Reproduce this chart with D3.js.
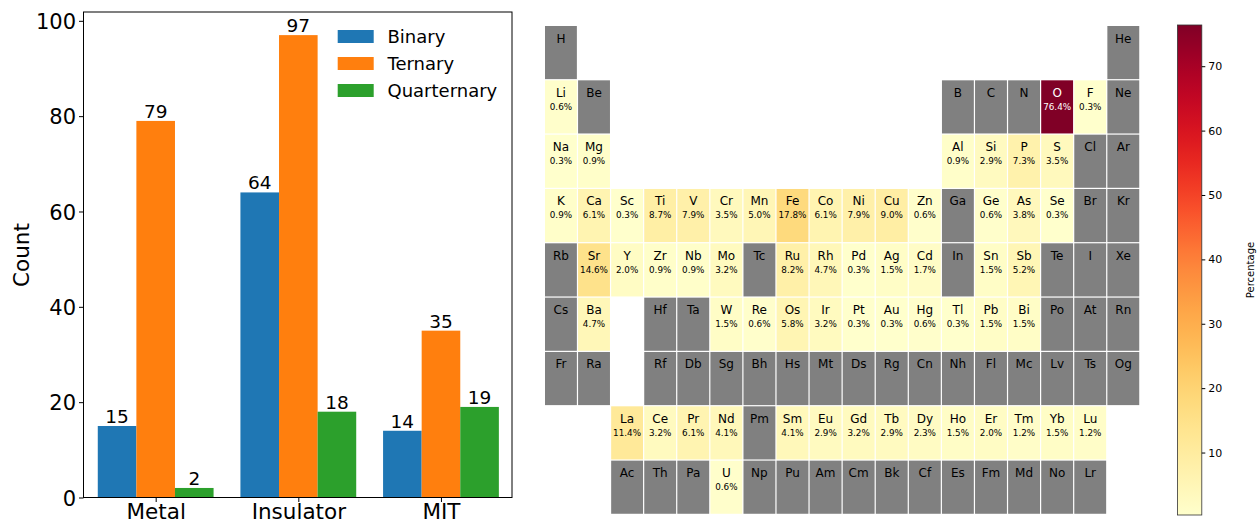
<!DOCTYPE html>
<html><head><meta charset="utf-8">
<script src="https://cdn.jsdelivr.net/npm/d3@7"></script>
<style>body{margin:0;background:#fff}svg{display:block;font-family:"DejaVu Sans",sans-serif}</style>
</head><body>
<svg id="c" width="1257" height="527"></svg>
<script>
// ---- Bar chart data ----
const categories = ["Metal", "Insulator", "MIT"];
const seriesNames = ["Binary", "Ternary", "Quarternary"];
const binary = [15, 64, 14];
const ternary = [79, 97, 35];
const quarternary = [2, 18, 19];
const seriesColors = ["#1f77b4", "#ff7f0e", "#2ca02c"];
const yTicks = [0, 20, 40, 60, 80, 100];

// ---- Periodic table data ----
const tableRows = [
  ["H",null,null,null,null,null,null,null,null,null,null,null,null,null,null,null,null,"He"],
  ["Li","Be",null,null,null,null,null,null,null,null,null,null,"B","C","N","O","F","Ne"],
  ["Na","Mg",null,null,null,null,null,null,null,null,null,null,"Al","Si","P","S","Cl","Ar"],
  ["K","Ca","Sc","Ti","V","Cr","Mn","Fe","Co","Ni","Cu","Zn","Ga","Ge","As","Se","Br","Kr"],
  ["Rb","Sr","Y","Zr","Nb","Mo","Tc","Ru","Rh","Pd","Ag","Cd","In","Sn","Sb","Te","I","Xe"],
  ["Cs","Ba",null,"Hf","Ta","W","Re","Os","Ir","Pt","Au","Hg","Tl","Pb","Bi","Po","At","Rn"],
  ["Fr","Ra",null,"Rf","Db","Sg","Bh","Hs","Mt","Ds","Rg","Cn","Nh","Fl","Mc","Lv","Ts","Og"],
  [null,null,"La","Ce","Pr","Nd","Pm","Sm","Eu","Gd","Tb","Dy","Ho","Er","Tm","Yb","Lu",null],
  [null,null,"Ac","Th","Pa","U","Np","Pu","Am","Cm","Bk","Cf","Es","Fm","Md","No","Lr",null]
];
const elemSymbols = ["Li","O","F","Na","Mg","Al","Si","P","S","K","Ca","Sc","Ti","V","Cr","Mn","Fe","Co","Ni","Cu","Zn","Ge","As","Se","Sr","Y","Zr","Nb","Mo","Ru","Rh","Pd","Ag","Cd","Sn","Sb","Ba","W","Re","Os","Ir","Pt","Au","Hg","Tl","Pb","Bi","La","Ce","Pr","Nd","Sm","Eu","Gd","Tb","Dy","Ho","Er","Tm","Yb","Lu","U"];
const elemPercent = [0.6,76.4,0.3,0.3,0.9,0.9,2.9,7.3,3.5,0.9,6.1,0.3,8.7,7.9,3.5,5.0,17.8,6.1,7.9,9.0,0.6,0.6,3.8,0.3,14.6,2.0,0.9,0.9,3.2,8.2,4.7,0.3,1.5,1.7,1.5,5.2,4.7,1.5,0.6,5.8,3.2,0.3,0.3,0.6,0.3,1.5,1.5,11.4,3.2,6.1,4.1,4.1,2.9,3.2,2.9,2.3,1.5,2.0,1.2,1.5,1.2,0.6];
const cbarTicks = [10, 20, 30, 40, 50, 60, 70];

const svg = d3.select("#c");

// ================= Bar chart =================
const L = 83.5, R = 512, T = 12, B = 497.5;
const x = d3.scaleLinear().domain([-0.506, 2.498]).range([L, R]);
const y = d3.scaleLinear().domain([0, 101.85]).range([B, T]);
const bw = 0.2706;
const allSeries = [binary, ternary, quarternary];

const gBar = svg.append("g");
allSeries.forEach((vals, s) => {
  const off = (s - 1) * bw;
  gBar.selectAll(null).data(vals).enter().append("rect")
    .attr("x", (d, i) => x(i + off - bw / 2))
    .attr("width", x(bw) - x(0))
    .attr("y", d => y(d))
    .attr("height", d => y(0) - y(d))
    .attr("fill", seriesColors[s]);
  gBar.selectAll(null).data(vals).enter().append("text")
    .attr("x", (d, i) => x(i + off))
    .attr("y", d => y(d) - 3)
    .attr("text-anchor", "middle")
    .attr("font-size", 18.5)
    .text(d => d);
});

// axes
const yAxis = d3.axisLeft(y).tickValues(yTicks).tickSize(4.5).tickPadding(3);
const gy = svg.append("g").attr("transform", `translate(${L},0)`).call(yAxis);
gy.select(".domain").remove();
gy.selectAll("text").attr("font-size", 21).attr("font-family", "DejaVu Sans").attr("fill", "#000").attr("dy", "0.36em");
gy.selectAll("line").attr("stroke", "#000").attr("stroke-width", 1);

const xAxis = d3.axisBottom(x).tickValues([0, 1, 2]).tickFormat(i => categories[i]).tickSize(4.5).tickPadding(2);
const gx = svg.append("g").attr("transform", `translate(0,${B})`).call(xAxis);
gx.select(".domain").remove();
gx.selectAll("text").attr("font-size", 21.5).attr("font-family", "DejaVu Sans").attr("fill", "#000").attr("dy", "0.72em");
gx.selectAll("line").attr("stroke", "#000").attr("stroke-width", 1);

svg.append("rect").attr("x", L).attr("y", T).attr("width", R - L).attr("height", B - T)
  .attr("fill", "none").attr("stroke", "#000").attr("stroke-width", 1);

svg.append("text").attr("transform", `translate(29,255) rotate(-90)`)
  .attr("text-anchor", "middle").attr("font-size", 21.5).text("Count");

// legend
const leg = svg.append("g");
seriesNames.forEach((n, i) => {
  const cy = 36.5 + i * 27;
  leg.append("rect").attr("x", 337.7).attr("y", cy - 6.5).attr("width", 36).attr("height", 13).attr("fill", seriesColors[i]);
  leg.append("text").attr("x", 387.5).attr("y", cy + 6.5).attr("font-size", 18).text(n);
});

// ================= Periodic table =================
const pct = new Map(elemSymbols.map((s, i) => [s, elemPercent[i]]));
const px = 545, pitchX = 33.08, py = 26, pitchY = 54.33;
const colX = d3.scaleLinear().domain([0, 18]).range([px, px + 18 * pitchX]);
const rowY = d3.scaleLinear().domain([0, 9]).range([py, py + 9 * pitchY]);
const vmin = 0.3, vmax = 76.4;
const color = d3.scaleSequential(d3.interpolateYlOrRd).domain([vmin, vmax]);

const cells = [];
tableRows.forEach((row, r) => row.forEach((s, c) => { if (s) cells.push({ s, r, c, v: pct.get(s) }); }));

const gT = svg.append("g");
const cg = gT.selectAll("g").data(cells).enter().append("g")
  .attr("transform", d => `translate(${colX(d.c)},${rowY(d.r)})`);
cg.append("rect").attr("width", pitchX - 1.2).attr("height", pitchY - 1.2)
  .attr("fill", d => d.v === undefined ? "#808080" : color(d.v));
cg.append("text").attr("x", (pitchX - 1.2) / 2).attr("y", 16.5).attr("text-anchor", "middle")
  .attr("font-size", 12).attr("fill", d => d.v !== undefined && d.v > 50 ? "#fff" : "#000").text(d => d.s);
cg.filter(d => d.v !== undefined).append("text").attr("x", (pitchX - 1.2) / 2).attr("y", 29.5)
  .attr("text-anchor", "middle").attr("font-size", 8.8)
  .attr("fill", d => d.v > 50 ? "#fff" : "#000").text(d => d.v.toFixed(1) + "%");

// ================= Colorbar =================
const cbL = 1177.5, cbW = 24.3, cbT = 25, cbB = 515;
const cy = d3.scaleLinear().domain([vmin, vmax]).range([cbB, cbT]);
const defs = svg.append("defs");
const grad = defs.append("linearGradient").attr("id", "cbg").attr("x1", 0).attr("y1", 1).attr("x2", 0).attr("y2", 0);
d3.range(0, 1.0001, 0.02).forEach(t => grad.append("stop").attr("offset", t).attr("stop-color", d3.interpolateYlOrRd(t)));
svg.append("rect").attr("x", cbL).attr("y", cbT).attr("width", cbW).attr("height", cbB - cbT)
  .attr("fill", "url(#cbg)").attr("stroke", "#333").attr("stroke-width", 0.8);
const cAxis = d3.axisRight(cy).tickValues(cbarTicks).tickSize(3.5).tickPadding(3);
const gc = svg.append("g").attr("transform", `translate(${cbL + cbW},0)`).call(cAxis);
gc.select(".domain").remove();
gc.selectAll("text").attr("font-size", 11).attr("font-family", "DejaVu Sans").attr("fill", "#000");
gc.selectAll("line").attr("stroke", "#000");
svg.append("text").attr("transform", `translate(1254,${(cbT + cbB) / 2}) rotate(-90)`)
  .attr("text-anchor", "middle").attr("font-size", 10).text("Percentage");
</script>
</body></html>
